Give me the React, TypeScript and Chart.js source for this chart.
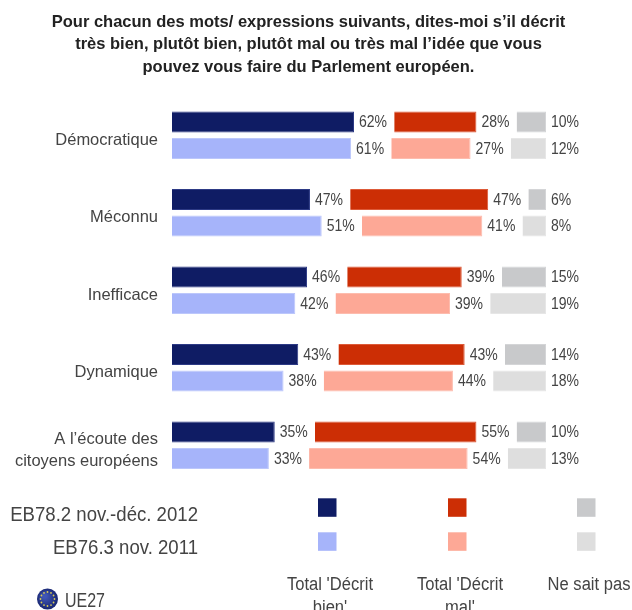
import React, { useEffect, useRef } from "react";
import { Chart, registerables } from "chart.js";

Chart.register(...registerables);

const categories = [
  "Démocratique",
  "Méconnu",
  "Inefficace",
  "Dynamique",
  ["A l’écoute des", "citoyens européens"],
];
const bien2012 = [62, 47, 46, 43, 35];
const mal2012 = [28, 47, 39, 43, 55];
const nsp2012 = [10, 6, 15, 14, 10];
const bien2011 = [61, 51, 42, 38, 33];
const mal2011 = [27, 41, 39, 44, 54];
const nsp2011 = [12, 8, 19, 18, 13];

const titleLines = [
  "Pour chacun des mots/ expressions suivants, dites-moi s’il décrit",
  "très bien, plutôt bien, plutôt mal ou très mal l’idée que vous",
  "pouvez vous faire du Parlement européen.",
];
const waveLabels = ["EB78.2 nov.-déc. 2012", "EB76.3 nov. 2011"];
const answerLabels = [["Total 'Décrit", "bien'"], ["Total 'Décrit", "mal'"], ["Ne sait pas"]];

const NAVY = "#0f1c64";
const PERIWINKLE = "#a6b4fa";
const RED = "#cc2e05";
const SALMON = "#fda896";
const GREY = "#c8c9cb";
const PALE_GREY = "#dedede";
const INK = "#444444";
const FONT = "'Liberation Sans', Arial, sans-serif";

// Empty stretch between the answer groups, in scale units; leaves room for the value labels.
const SPACER = 13.7;
const spacer = categories.map(() => SPACER);

const bar = (data: number[], color: string, stack: string, borderColor: string) => ({
  data,
  stack,
  backgroundColor: color,
  borderColor,
  borderWidth: 1,
  isValue: true,
});
const gap = (stack: string) => ({
  data: spacer,
  stack,
  backgroundColor: "transparent",
  borderWidth: 0,
  isValue: false,
});

// Canvas text with a horizontal squeeze, for the tall condensed lettering of the slide.
function drawText(
  ctx: CanvasRenderingContext2D,
  text: string,
  x: number,
  y: number,
  size: number,
  squeeze: number,
  align: CanvasTextAlign,
  weight = "normal",
) {
  ctx.save();
  ctx.translate(x, y);
  ctx.scale(squeeze, 1);
  ctx.font = `${weight} ${size}px ${FONT}`;
  ctx.textAlign = align;
  ctx.textBaseline = "alphabetic";
  ctx.fillText(text, 0, 0);
  ctx.restore();
}

const valueLabels = {
  id: "valueLabels",
  afterDatasetsDraw(chart: any) {
    const { ctx } = chart;
    ctx.save();
    ctx.fillStyle = INK;
    chart.data.datasets.forEach((ds: any, i: number) => {
      if (!ds.isValue) return;
      chart.getDatasetMeta(i).data.forEach((el: any, j: number) => {
        drawText(ctx, `${ds.data[j]}%`, el.x + 5, el.y + 5, 16.5, 0.85, "left");
      });
    });
    ctx.restore();
  },
};

const pageText = {
  id: "pageText",
  afterDraw(chart: any) {
    const { ctx } = chart;
    ctx.save();

    // Question heading
    ctx.fillStyle = "#222222";
    titleLines.forEach((line, i) => drawText(ctx, line, 308.5, 26.5 + i * 22.7, 16.5, 1, "center", "bold"));

    // Survey waves with their colour keys
    ctx.fillStyle = INK;
    waveLabels.forEach((label, i) => drawText(ctx, label, 198, 520.5 + i * 33.5, 20, 0.93, "right"));

    const keyColumns = [
      { x: 318, colors: [NAVY, PERIWINKLE] },
      { x: 448, colors: [RED, SALMON] },
      { x: 577, colors: [GREY, PALE_GREY] },
    ];
    keyColumns.forEach(({ x, colors }, c) => {
      colors.forEach((color, r) => {
        ctx.fillStyle = color;
        ctx.fillRect(x, 498.3 + r * 34, 18.5, 18.5);
      });
      ctx.fillStyle = INK;
      answerLabels[c].forEach((line, l) => drawText(ctx, line, x + 12, 590 + l * 23, 18, 0.92, "center"));
    });

    // EU27 marker: blue disc with a ring of stars
    const cx = 47.5;
    const cy = 599;
    const disc = ctx.createRadialGradient(cx - 3, cy - 3, 2, cx, cy, 11);
    disc.addColorStop(0, "#3f55b5");
    disc.addColorStop(1, "#16246e");
    ctx.fillStyle = disc;
    ctx.beginPath();
    ctx.arc(cx, cy, 10.5, 0, Math.PI * 2);
    ctx.fill();
    ctx.fillStyle = "#d8cc55";
    for (let s = 0; s < 12; s++) {
      const a = (s * Math.PI) / 6;
      ctx.beginPath();
      ctx.arc(cx + Math.cos(a) * 7, cy + Math.sin(a) * 7, 0.9, 0, Math.PI * 2);
      ctx.fill();
    }
    ctx.fillStyle = INK;
    drawText(ctx, "UE27", 65, 607, 19.5, 0.82, "left");
    ctx.restore();
  },
};

export default function App() {
  const canvasRef = useRef<HTMLCanvasElement>(null);

  useEffect(() => {
    const chart = new Chart(canvasRef.current!, {
      type: "bar",
      data: {
        labels: categories as any,
        datasets: [
          bar(bien2012, NAVY, "2012", "#2d3a85"),
          gap("2012"),
          bar(mal2012, RED, "2012", "#dd5a38"),
          gap("2012"),
          bar(nsp2012, GREY, "2012", "#d4d5d7"),
          bar(bien2011, PERIWINKLE, "2011", "#bcc7fb"),
          gap("2011"),
          bar(mal2011, SALMON, "2011", "#fdbcae"),
          gap("2011"),
          bar(nsp2011, PALE_GREY, "2011", "#e6e6e6"),
        ] as any,
      },
      plugins: [valueLabels, pageText],
      options: {
        indexAxis: "y",
        responsive: false,
        animation: false,
        datasets: { bar: { categoryPercentage: 0.684, barPercentage: 0.79 } },
        layout: { padding: { top: 96.6, bottom: 126, right: 86, left: 0 } },
        plugins: { legend: { display: false }, tooltip: { enabled: false } },
        scales: {
          x: { display: false, stacked: true, min: 0, max: 100 + 2 * SPACER },
          y: {
            stacked: true,
            grid: { display: false },
            border: { display: false },
            ticks: {
              color: INK,
              padding: 6,
              labelOffset: 5,
              font: { family: FONT, size: 16.5, lineHeight: 1.33 },
            },
            afterFit(scale: any) {
              scale.width = 172;
            },
          },
        },
      } as any,
    });
    return () => chart.destroy();
  }, []);

  return (
    <div style={{ position: "fixed", left: 0, top: 0, width: 632, height: 610, background: "#fff" }}>
      <canvas ref={canvasRef} width={632} height={610} style={{ display: "block" }} />
    </div>
  );
}
